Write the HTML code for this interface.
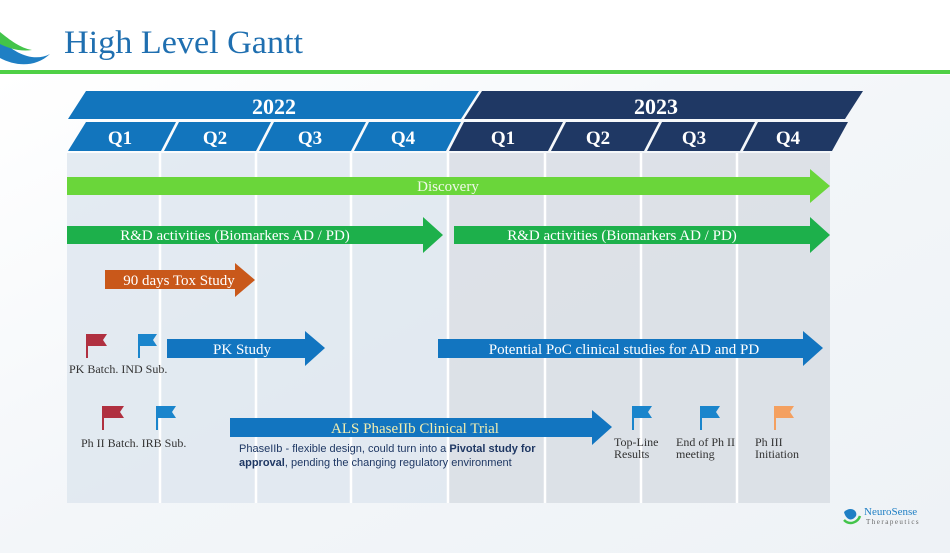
<!DOCTYPE html>
<html><head><meta charset="utf-8"><style>
body{margin:0;width:950px;height:553px;overflow:hidden;background:#fff;}
svg{display:block}
.s{font-family:"Liberation Serif",serif;}
.a{font-family:"Liberation Sans",sans-serif;}
</style></head><body>
<svg width="950" height="553" viewBox="0 0 950 553" xmlns="http://www.w3.org/2000/svg">
<defs>
<linearGradient id="bg" x1="0" y1="0" x2="1" y2="1">
<stop offset="0" stop-color="#ffffff"/><stop offset="0.5" stop-color="#f3f6f9"/><stop offset="1" stop-color="#eef2f6"/></linearGradient>
</defs>
<rect x="0" y="75" width="950" height="478" fill="url(#bg)"/>
<path d="M0,38 C15,55 35,62 50,54 C35,68 15,66 0,58 Z" fill="#1f7fc4"/>
<path d="M0,32 C10,40 20,48 32,50 C20,52 8,48 0,44 Z" fill="#43c44a"/>
<text class="s" x="64" y="53" font-size="33" fill="#1f6fb0" textLength="239" lengthAdjust="spacingAndGlyphs">High Level Gantt</text>
<rect x="0" y="70" width="950" height="4" fill="#4fd046"/>
<rect x="67" y="153" width="380" height="350" fill="#dde6ef" opacity="0.8"/>
<rect x="449" y="153" width="381" height="350" fill="#d8dde4" opacity="0.85"/>
<g stroke="#ffffff" stroke-width="2.5">
<line x1="160" y1="153" x2="160" y2="503"/><line x1="256" y1="153" x2="256" y2="503"/>
<line x1="351" y1="153" x2="351" y2="503"/><line x1="448" y1="153" x2="448" y2="503"/>
<line x1="545" y1="153" x2="545" y2="503"/><line x1="641" y1="153" x2="641" y2="503"/>
<line x1="737" y1="153" x2="737" y2="503"/>
</g>
<polygon points="86,91 479,91 461,119 68,119" fill="#1275bd"/>
<polygon points="482,91 863,91 845,119 464,119" fill="#1f3864"/>
<g class="s" font-size="22" font-weight="bold" fill="#fff" text-anchor="middle">
<text x="274" y="114">2022</text>
<text x="656" y="114">2023</text>
</g>
<g fill="#1275bd">
<polygon points="86,122 176,122 161,151 68,151"/>
<polygon points="179,122 271,122 256,151 164,151"/>
<polygon points="274,122 366,122 351,151 259,151"/>
<polygon points="369,122 461,122 446,151 354,151"/>
</g>
<g fill="#1f3864">
<polygon points="464,122 563,122 548,151 449,151"/>
<polygon points="566,122 659,122 644,151 551,151"/>
<polygon points="662,122 755,122 740,151 647,151"/>
<polygon points="758,122 848,122 832,151 743,151"/>
</g>
<g class="s" font-size="19" font-weight="bold" fill="#fff" text-anchor="middle">
<text x="120" y="144">Q1</text><text x="215" y="144">Q2</text><text x="310" y="144">Q3</text><text x="403" y="144">Q4</text>
<text x="503" y="144">Q1</text><text x="598" y="144">Q2</text><text x="694" y="144">Q3</text><text x="788" y="144">Q4</text>
</g>
<polygon points="67,177 810,177 810,169 830,186 810,203 810,195 67,195" fill="#6ad63a"/>
<text class="s" x="448" y="191" font-size="15" fill="#f0f8e8" text-anchor="middle">Discovery</text>
<polygon points="67,226 423,226 423,217 443,235 423,253 423,244 67,244" fill="#1db04b"/>
<text class="s" x="235" y="240" font-size="15" fill="#fff" text-anchor="middle">R&amp;D activities (Biomarkers AD / PD)</text>
<polygon points="454,226 810,226 810,217 830,235 810,253 810,244 454,244" fill="#1db04b"/>
<text class="s" x="622" y="240" font-size="15" fill="#fff" text-anchor="middle">R&amp;D activities (Biomarkers AD / PD)</text>
<polygon points="105,270 235,270 235,263 255,280 235,297 235,289 105,289" fill="#c9581a"/>
<text class="s" x="179" y="285" font-size="15" fill="#fff" text-anchor="middle">90 days Tox Study</text>
<polygon points="167,339 305,339 305,331 325,348 305,366 305,358 167,358" fill="#1275c0"/>
<text class="s" x="242" y="354" font-size="15" fill="#fff" text-anchor="middle">PK Study</text>
<polygon points="438,339 803,339 803,331 823,348 803,366 803,358 438,358" fill="#1275c0"/>
<text class="s" x="624" y="354" font-size="15" fill="#fff" text-anchor="middle">Potential PoC clinical studies for AD and PD</text>
<polygon points="230,418 592,418 592,410 612,427 592,445 592,437 230,437" fill="#1275c0"/>
<text class="s" x="415" y="433" font-size="15" fill="#f2eeb0" text-anchor="middle">ALS PhaseIIb Clinical Trial</text>
<text class="a" x="239" y="452" font-size="11" fill="#1f3864">PhaseIIb - flexible design, could turn into a <tspan font-weight="bold">Pivotal study for</tspan></text>
<text class="a" x="239" y="466" font-size="11" fill="#1f3864"><tspan font-weight="bold">approval</tspan>, pending the changing regulatory environment</text>
<g>
<rect x="86" y="334" width="2" height="24" fill="#b03040"/><polygon points="88,334 107,334 103,340 107,346 88,346" fill="#b03040"/>
<rect x="138" y="334" width="2" height="24" fill="#1a85cc"/><polygon points="140,334 157,334 153,340 157,346 140,346" fill="#1a85cc"/>
<rect x="102" y="406" width="2" height="24" fill="#b03040"/><polygon points="104,406 124,406 120,412 124,418 104,418" fill="#b03040"/>
<rect x="156" y="406" width="2" height="24" fill="#1a85cc"/><polygon points="158,406 176,406 172,412 176,418 158,418" fill="#1a85cc"/>
<rect x="632" y="406" width="2" height="24" fill="#1a85cc"/><polygon points="634,406 652,406 648,412 652,418 634,418" fill="#1a85cc"/>
<rect x="700" y="406" width="2" height="24" fill="#1a85cc"/><polygon points="702,406 720,406 716,412 720,418 702,418" fill="#1a85cc"/>
<rect x="774" y="406" width="2" height="24" fill="#f4a060"/><polygon points="776,406 794,406 790,412 794,418 776,418" fill="#f4a060"/>
</g>
<g class="s" font-size="12" fill="#333">
<text x="69" y="373">PK Batch. IND Sub.</text>
<text x="81" y="447">Ph II Batch. IRB Sub.</text>
<text x="614" y="446">Top-Line</text><text x="614" y="458">Results</text>
<text x="676" y="446">End of Ph II</text><text x="676" y="458">meeting</text>
<text x="755" y="446">Ph III</text><text x="755" y="458">Initiation</text>
</g>
<path d="M844,512 C850,506 858,510 856,516 C852,522 846,520 844,512 Z" fill="#1f7fc4"/>
<path d="M844,520 C850,526 858,522 860,516" stroke="#43c44a" stroke-width="2.5" fill="none"/>
<text class="s" x="864" y="515" font-size="11" fill="#1f7fc4">NeuroSense</text>
<text class="s" x="866" y="524" font-size="7" letter-spacing="1.5" fill="#666">Therapeutics</text>
</svg>
</body></html>
